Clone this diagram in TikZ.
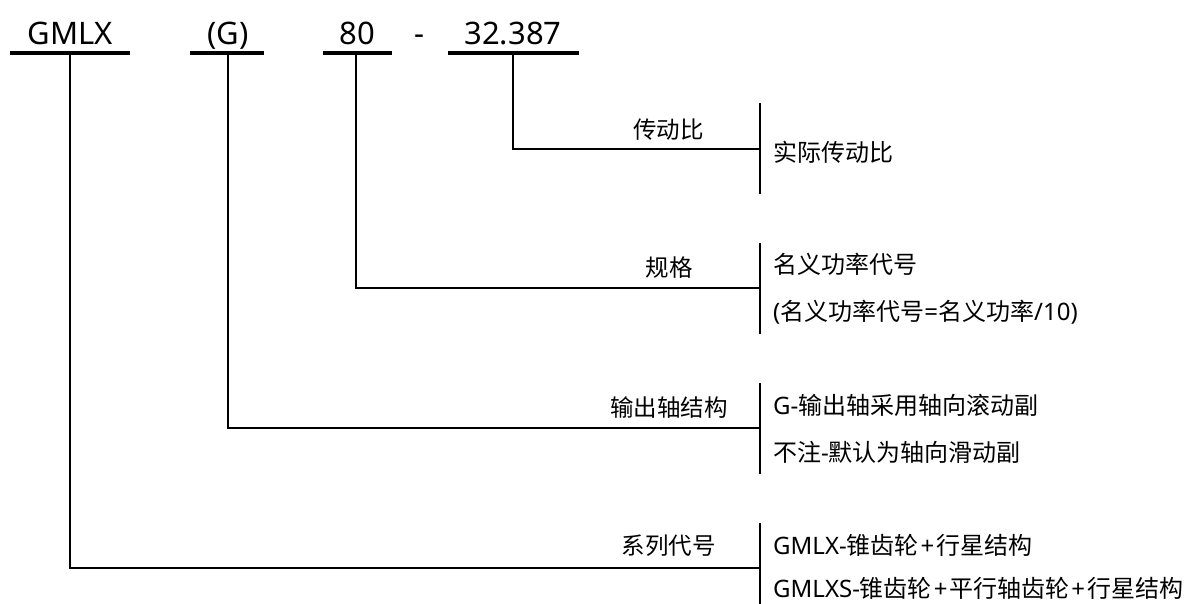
\documentclass[tikz,border=0pt]{standalone}
\usepackage{fontspec}
\setmainfont{Noto Sans CJK SC}
\newfontfamily\lat{Noto Sans}
\newcommand{\plusw}{\hspace{0.08em}{\lat+}\hspace{0.08em}}
\begin{document}
\begin{tikzpicture}[x=1pt,y=-1pt,
  top/.style={font=\lat\fontsize{31}{33}\selectfont, anchor=base, inner sep=0pt},
  lab/.style={font=\fontsize{23.5}{25}\selectfont, anchor=east, inner sep=0pt},
  desc/.style={font=\fontsize{24}{26}\selectfont, anchor=west, inner sep=0pt},
  uline/.style={line width=3.2pt},
  conn/.style={line width=1.3pt},
  bar/.style={line width=1.3pt}]
\useasboundingbox (0,0) rectangle (1194,604);
% top labels
\node[top] (t1) at (70,45) {GMLX};
\node[top] (t2) at (228,45) {(G)};
\node[top] (t3) at (357,45) {80};
\node[top] (dash) at (419,45) {-};
\node[top] (t4) at (513,45) {32.387};
% underlines
\coordinate (u1a) at (10,53); \coordinate (u1b) at (130,53);
\coordinate (u2a) at (190,53); \coordinate (u2b) at (264,53);
\coordinate (u3a) at (323,53); \coordinate (u3b) at (392,53);
\coordinate (u4a) at (448,53); \coordinate (u4b) at (579,53);
\draw[uline] (u1a) -- (u1b);
\draw[uline] (u2a) -- (u2b);
\draw[uline] (u3a) -- (u3b);
\draw[uline] (u4a) -- (u4b);
% stems
\coordinate (s1) at (70,53);
\coordinate (s2) at (228,53);
\coordinate (s3) at (356,53);
\coordinate (s4) at (513,53);
% junctions on bars
\coordinate (j4) at (760,149);
\coordinate (j3) at (760,288);
\coordinate (j2) at (760,428);
\coordinate (j1) at (760,568);
\draw[conn] (s4) |- (j4);
\draw[conn] (s3) |- (j3);
\draw[conn] (s2) |- (j2);
\draw[conn] (s1) |- (j1);
% bars
\coordinate (b4a) at (760,103); \coordinate (b4b) at (760,194);
\coordinate (b3a) at (760,243); \coordinate (b3b) at (760,334);
\coordinate (b2a) at (760,383); \coordinate (b2b) at (760,474);
\coordinate (b1a) at (760,523); \coordinate (b1b) at (760,604);
\draw[bar] (b4a) -- (b4b);
\draw[bar] (b3a) -- (b3b);
\draw[bar] (b2a) -- (b2b);
\draw[bar] (b1a) -- (b1b);
% labels
\node[lab] (l4) at (704,130) {传动比};
\node[lab] (l3) at (693,268) {规格};
\node[lab] (l2) at (728,408) {输出轴结构};
\node[lab] (l1) at (716,546) {系列代号};
% descriptions
\node[desc] (d4) at (773,152) {实际传动比};
\node[desc] (d3a) at (773,264) {名义功率代号};
\node[desc] (d3b) at (773,312) {{\lat(}名义功率代号{\lat=}名义功率{\lat/10)}};
\node[desc] (d2a) at (773,405) {{\lat G-}输出轴采用轴向滚动副};
\node[desc] (d2b) at (773,452) {不注{\lat-}默认为轴向滑动副};
\node[desc] (d1a) at (773,545) {{\lat GMLX-}锥齿轮\plusw 行星结构};
\node[desc] (d1b) at (773,588) {{\lat GMLXS-}锥齿轮\plusw 平行轴齿轮\plusw 行星结构};
\end{tikzpicture}
\end{document}
